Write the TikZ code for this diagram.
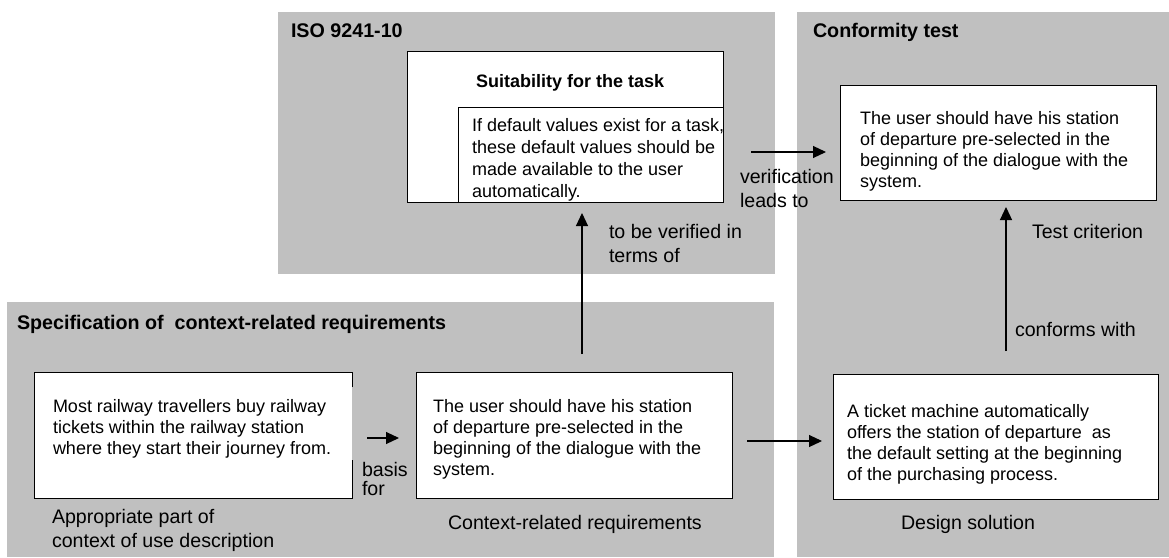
\documentclass[tikz,border=0pt]{standalone}
\usepackage{fontspec}
\setmainfont{Liberation Sans}
\usetikzlibrary{arrows.meta}
\definecolor{panelgray}{HTML}{C0C0C0}
% text sizes
\newcommand\txtbody{\fontsize{18}{21}\selectfont}
\newcommand\txtlabel{\fontsize{19.6}{24}\selectfont}
\newcommand\txttitle{\fontsize{19.7}{23}\selectfont\bfseries}
% a left-aligned block whose reference point is its first baseline
\newcommand\lineblock[2]{\parbox[t]{#1}{\raggedright #2}}

\begin{document}
\begin{tikzpicture}[x=1pt,y=-1pt,
  panel/.style={fill=panelgray},
  box/.style={draw=black, line width=1pt, fill=white, inner sep=0pt, outer sep=0pt},
  blank/.style={fill=white, inner sep=0pt, outer sep=0pt},
  txt/.style={inner sep=0pt, outer sep=0pt, anchor=base west},
  conn/.style={line width=1.1pt, -{Triangle[length=13pt,width=12pt]}},
  rim/.style={line width=1pt}]

\useasboundingbox (0,0) rectangle (1169,557);

% grey panels
\fill[panel] (278,12) rectangle (775,274);
\fill[panel] (797,12) rectangle (1169,557);
\fill[panel] (7,302) rectangle (774,557);

% panel titles
\node[txt, font=\txttitle] (isotitle) at (291,37) {ISO 9241-10};
\node[txt, font=\txttitle] (conftitle) at (813,37) {Conformity test};
\node[txt, font=\txttitle] (spectitle) at (17,329) {Specification of\ \ context-related requirements};

% ISO 9241-10 principle
\node[box, minimum width=316pt, minimum height=151pt] (suit) at (565,126.5) {};
\node[box, minimum width=265pt, minimum height=95pt] (spec) at (590.5,154.5) {};
\node[txt, font=\fontsize{18}{21}\selectfont\bfseries] (suittitle) at (476,87) {Suitability for the task};
\node[txt, font=\fontsize{18}{22}\selectfont] (spectext) at (472,131)
  {\lineblock{320pt}{If default values exist for a task,\\these default values should be\\made available to the user\\automatically.}};

% test criterion
\node[box, minimum width=316pt, minimum height=115pt] (crit) at (998,142.5) {};
\node[txt, font=\fontsize{18}{21.3}\selectfont] (crittext) at (860,124)
  {\lineblock{320pt}{The user should have his station\\of departure pre-selected in the\\beginning of the dialogue with the\\system.}};

% context of use
\node[blank, minimum width=318pt, minimum height=126pt] (ctx) at (193,435) {};
\draw[rim] ([yshift=-15pt]ctx.north east) -- (ctx.north east) -- (ctx.north west)
  -- (ctx.south west) -- (ctx.south east) -- ([yshift=38pt]ctx.south east);
\node[txt, font=\txtbody] (ctxtext) at (53,412)
  {\lineblock{320pt}{Most railway travellers buy railway\\tickets within the railway station\\where they start their journey from.}};

% context-related requirement
\node[box, minimum width=316pt, minimum height=126pt] (req) at (574,435) {};
\node[txt, font=\txtbody] (reqtext) at (433,412)
  {\lineblock{320pt}{The user should have his station\\of departure pre-selected in the\\beginning of the dialogue with the\\system.}};

% design solution
\node[box, minimum width=325pt, minimum height=125pt] (design) at (995.5,436.5) {};
\node[txt, font=\txtbody] (designtext) at (847,417)
  {\lineblock{320pt}{A ticket machine automatically\\offers the station of departure\ \ as\\the default setting at the beginning\\of the purchasing process.}};

% captions under the boxes
\node[txt, font=\txtlabel] (ctxcap) at (52,523) {\lineblock{320pt}{Appropriate part of\\context of use description}};
\node[txt, font=\txtlabel] (reqcap) at (448,529) {Context-related requirements};
\node[txt, font=\txtlabel] (designcap) at (901,529) {Design solution};

% connectors
\draw[conn, shorten <=15pt, shorten >=17pt] ([yshift=-3pt]ctx.east) -- ([yshift=-3pt]ctx.east -| req.west);
\draw[conn, shorten <=15pt, shorten >=11pt] ([yshift=-6pt]req.east) -- ([yshift=-6pt]req.east -| design.west);
\draw[conn, shorten <=18pt, shorten >=11pt] ([xshift=8pt]req.north) -- ([xshift=8pt]req.north |- spec.south);
\draw[conn, shorten <=28pt, shorten >=14pt] ([yshift=-25.5pt]suit.east) -- ([yshift=-25.5pt]suit.east -| crit.west);
\draw[conn, shorten <=23pt, shorten >=7pt] ([xshift=10.5pt]design.north) -- ([xshift=10.5pt]design.north |- crit.south);

% connector labels
\node[txt, font=\fontsize{19.6}{19.5}\selectfont] (basislbl) at (362,476) {\lineblock{60pt}{basis\\for}};
\node[txt, font=\txtlabel] (verifylbl) at (609,238) {\lineblock{200pt}{to be verified in\\terms of}};
\node[txt, font=\txtlabel] (leadslbl) at (740,183) {\lineblock{120pt}{verification\\leads to}};
\node[txt, font=\txtlabel] (critlbl) at (1032,238) {Test criterion};
\node[txt, font=\txtlabel] (conflbl) at (1015,336) {conforms with};

\end{tikzpicture}
\end{document}
